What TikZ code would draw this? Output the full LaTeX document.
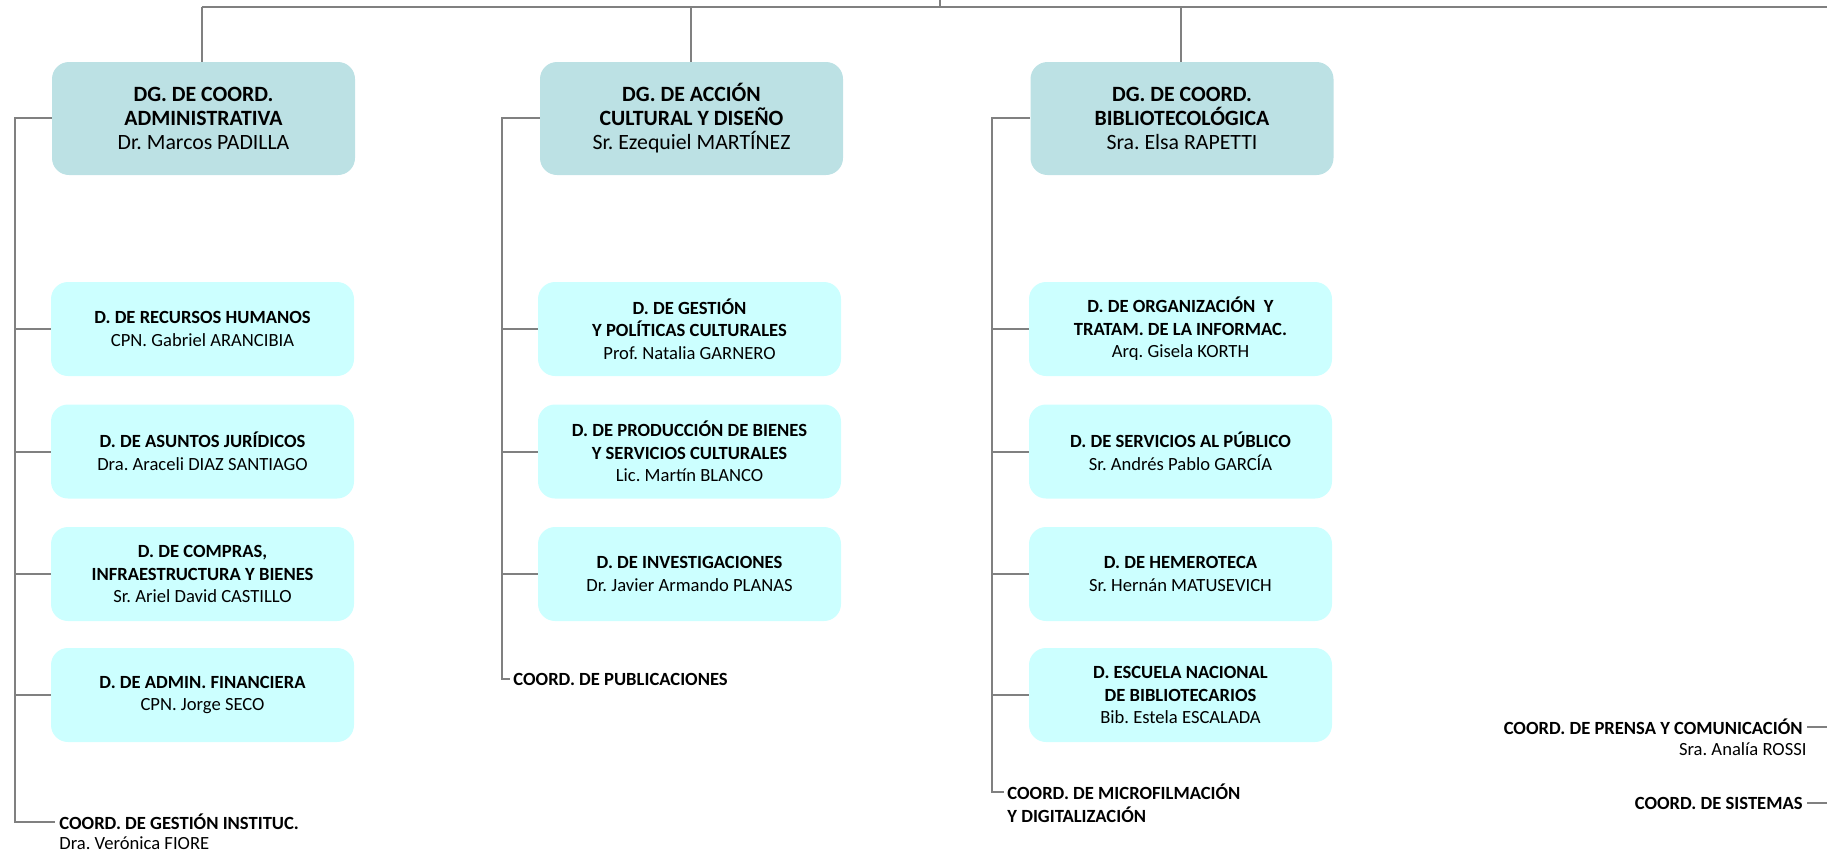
\documentclass[tikz,border=0pt]{standalone}
\usepackage{fontspec}
\setmainfont{Carlito}
\frenchspacing
\definecolor{dgfill}{HTML}{BCE1E4}
\definecolor{subfill}{HTML}{CCFFFF}
\definecolor{linegray}{HTML}{808080}
\begin{document}
\frenchspacing
\begin{tikzpicture}[x=0.5pt,y=-0.5pt,
  conn/.style={draw=linegray,line width=1pt},
  dgbox/.style={rounded corners=8.5pt,fill=dgfill,minimum width=151.5pt,minimum height=56.5pt,align=center,inner sep=0pt,font=\fontsize{10.9}{12}\selectfont},
  subbox/.style={rounded corners=8.5pt,fill=subfill,minimum width=151.5pt,minimum height=47pt,align=center,inner sep=0pt,font=\fontsize{9.3}{11.3}\selectfont},
  lab/.style={inner sep=0pt,font=\fontsize{9.3}{11.3}\selectfont}]
\useasboundingbox (0,0) rectangle (1827,857);
% top bar
\coordinate (trunk) at (940,0);
\coordinate (barT) at (940,7);
\coordinate (barL) at (201.5,7);
\coordinate (barR) at (1827,7);
\coordinate (barM) at (691,7);
\coordinate (barB) at (1181,7);
\draw[conn] (trunk) -- (barT);
\draw[conn] (barL) -- (barR);
% DG boxes
\node[dgbox] (dg1) at (203.5,118.5) {\textbf{DG. DE COORD.}\\\textbf{ADMINISTRATIVA}\\Dr. Marcos PADILLA};
\node[dgbox] (dg2) at (691.5,118.5) {\textbf{DG. DE ACCIÓN}\\\textbf{CULTURAL Y DISEÑO}\\Sr. Ezequiel MARTÍNEZ};
\node[dgbox] (dg3) at (1182,118.5) {\textbf{DG. DE COORD.}\\\textbf{BIBLIOTECOLÓGICA}\\Sra. Elsa RAPETTI};
\draw[conn] (barL) -- (barL |- dg1.north);
\draw[conn] (barM) -- (barM |- dg2.north);
\draw[conn] (barB) -- (barB |- dg3.north);
% column 1
\node[subbox] (a1) at (202.5,329) {\textbf{D. DE RECURSOS HUMANOS}\\CPN. Gabriel ARANCIBIA};
\node[subbox] (a2) at (202.5,451.5) {\textbf{D. DE ASUNTOS JURÍDICOS}\\Dra. Araceli DIAZ SANTIAGO};
\node[subbox] (a3) at (202.5,574) {\textbf{D. DE COMPRAS,}\\\textbf{INFRAESTRUCTURA Y BIENES}\\Sr. Ariel David CASTILLO};
\node[subbox] (a4) at (202.5,695) {\textbf{D. DE ADMIN. FINANCIERA}\\CPN. Jorge SECO};
\node[lab,anchor=west] (a5) at (59,821.5) {\textbf{COORD. DE GESTIÓN INSTITUC.}};
\node[lab,anchor=north west] (a5n) at ([yshift=-3.2pt]a5.south west) {Dra. Verónica FIORE};
\coordinate (ak) at (15,118);
\draw[conn] (dg1.west |- ak) -- (ak) |- ([xshift=-1.8pt]a5.west);
\foreach \n in {a1,a2,a3,a4} \draw[conn] (ak |- \n.west) -- (\n.west);
% column 2
\node[subbox] (b1) at (689.5,329) {\textbf{D. DE GESTIÓN}\\\textbf{Y POLÍTICAS CULTURALES}\\Prof. Natalia GARNERO};
\node[subbox] (b2) at (689.5,451.5) {\textbf{D. DE PRODUCCIÓN DE BIENES}\\\textbf{Y SERVICIOS CULTURALES}\\Lic. Martín BLANCO};
\node[subbox] (b3) at (689.5,574) {\textbf{D. DE INVESTIGACIONES}\\Dr. Javier Armando PLANAS};
\node[lab,anchor=west] (b4) at (513,679) {\textbf{COORD. DE PUBLICACIONES}};
\coordinate (bk) at (502,118);
\draw[conn] (dg2.west |- bk) -- (bk) |- ([xshift=-1.5pt]b4.west);
\foreach \n in {b1,b2,b3} \draw[conn] (bk |- \n.west) -- (\n.west);
% column 3
\node[subbox] (c1) at (1180.5,329) {\textbf{D. DE ORGANIZACIÓN\ \ Y}\\\textbf{TRATAM. DE LA INFORMAC.}\\Arq. Gisela KORTH};
\node[subbox] (c2) at (1180.5,451.5) {\textbf{D. DE SERVICIOS AL PÚBLICO}\\Sr. Andrés Pablo GARCÍA};
\node[subbox] (c3) at (1180.5,574) {\textbf{D. DE HEMEROTECA}\\Sr. Hernán MATUSEVICH};
\node[subbox] (c4) at (1180.5,695) {\textbf{D. ESCUELA NACIONAL}\\\textbf{DE BIBLIOTECARIOS}\\Bib. Estela ESCALADA};
\node[lab,anchor=west] (c5) at (1007,792) {\textbf{COORD. DE MICROFILMACIÓN}};
\node[lab,anchor=north west] (c5n) at ([yshift=-3.2pt]c5.south west) {\textbf{Y DIGITALIZACIÓN}};
\coordinate (ck) at (992,118);
\draw[conn] (dg3.west |- ck) -- (ck) |- ([xshift=-1.5pt]c5.west);
\foreach \n in {c1,c2,c3,c4} \draw[conn] (ck |- \n.west) -- (\n.west);
% right side
\coordinate (rEdge1) at (1827,727);
\coordinate (rEdge2) at (1827,803);
\node[lab,anchor=east] (d1) at (1803,727) {\textbf{COORD. DE PRENSA Y COMUNICACIÓN}};
\node[lab,anchor=north east] (d1n) at ([xshift=2pt,yshift=-3.2pt]d1.south east) {Sra. Analía ROSSI};
\node[lab,anchor=east] (d2) at (1803,803) {\textbf{COORD. DE SISTEMAS}};
\draw[conn] ([xshift=2pt]d1.east) -- (rEdge1);
\draw[conn] ([xshift=2pt]d2.east) -- (rEdge2);
\end{tikzpicture}
\end{document}
